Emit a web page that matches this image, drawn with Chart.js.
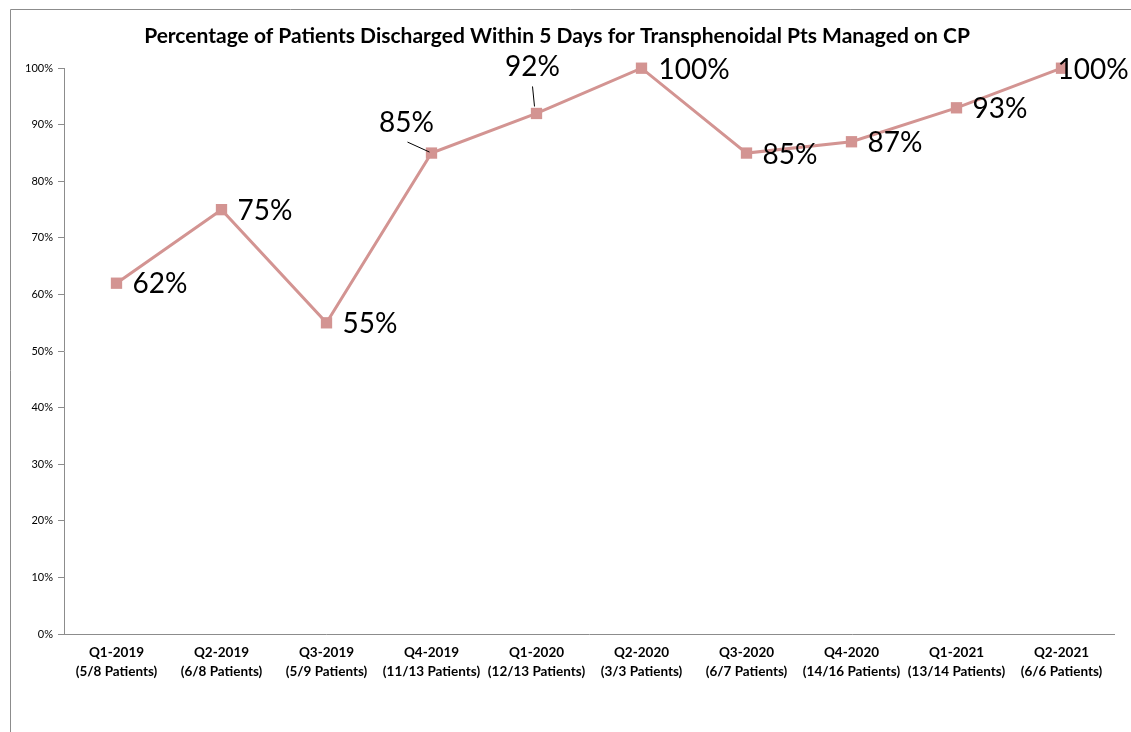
<!DOCTYPE html>
<html>
<head>
<meta charset="utf-8">
<script src="https://cdn.jsdelivr.net/npm/chart.js@4/dist/chart.umd.min.js"></script>
<style>
    html, body { margin: 0; padding: 0; background: #fff; }
    #wrap { width: 1131px; height: 732px; position: relative; }
</style>
</head>
<body>
<div id="wrap"><canvas id="discharge-chart" width="1131" height="732"></canvas></div>
<script>
// Data
const quarters = ['Q1-2019', 'Q2-2019', 'Q3-2019', 'Q4-2019', 'Q1-2020', 'Q2-2020', 'Q3-2020', 'Q4-2020', 'Q1-2021', 'Q2-2021'];
const patientCounts = ['(5/8 Patients)', '(6/8 Patients)', '(5/9 Patients)', '(11/13 Patients)', '(12/13 Patients)',
    '(3/3 Patients)', '(6/7 Patients)', '(14/16 Patients)', '(13/14 Patients)', '(6/6 Patients)'];
const percentDischarged = [62, 75, 55, 85, 92, 100, 85, 87, 93, 100];
const yTicks = [0, 10, 20, 30, 40, 50, 60, 70, 80, 90, 100];

// Label placement (dx, dy from the point, px); leader marks labels moved off the point
const labelOffsets = [
    { dx: 16, dy: 1, align: 'left' },
    { dx: 16, dy: 1, align: 'left' },
    { dx: 16, dy: 1, align: 'left' },
    { dx: -25, dy: -30, align: 'center', leader: true },
    { dx: -4, dy: -46, align: 'center', leader: true },
    { dx: 17, dy: 2, align: 'left' },
    { dx: 16, dy: 2, align: 'left' },
    { dx: 16, dy: 1, align: 'left' },
    { dx: 16, dy: 1, align: 'left' },
    { dx: -4, dy: 2, align: 'left' }
];

const FONT = 'Lato, "Open Sans", sans-serif';
const LINE_COLOR = '#d39492';

const frame = {
    id: 'frame',
    beforeDraw(chart) {
        const c = chart.ctx;
        c.save();
        c.strokeStyle = '#8c8c8c';
        c.lineWidth = 1;
        c.beginPath();
        c.moveTo(10.5, 732);
        c.lineTo(10.5, 9.5);
        c.lineTo(1131, 9.5);
        c.stroke();
        c.restore();
    }
};

const pointLabels = {
    id: 'pointLabels',
    afterDatasetsDraw(chart) {
        const c = chart.ctx;
        const meta = chart.getDatasetMeta(0);
        c.save();
        c.font = '28px ' + FONT;
        c.fillStyle = '#000';
        c.textBaseline = 'middle';
        meta.data.forEach((pt, i) => {
            const o = labelOffsets[i];
            const tx = pt.x + o.dx;
            const ty = pt.y + o.dy;
            if (o.leader) {
                c.strokeStyle = '#000';
                c.lineWidth = 1;
                c.beginPath();
                if (i === 3) {
                    c.moveTo(tx + 1, ty + 19);
                    c.lineTo(pt.x - 2, pt.y - 1);
                } else {
                    c.moveTo(tx, ty + 19);
                    c.lineTo(pt.x - 2, pt.y - 7);
                }
                c.stroke();
            }
            c.textAlign = o.align;
            c.fillText(percentDischarged[i] + '%', tx, ty);
        });
        c.restore();
    }
};

const ctx = document.getElementById('discharge-chart').getContext('2d');
const dischargeChart = new Chart(ctx, {
    type: 'line',
    data: {
        labels: quarters.map((q, i) => [q, patientCounts[i]]),
        datasets: [{
            data: percentDischarged,
            borderColor: LINE_COLOR,
            backgroundColor: LINE_COLOR,
            borderWidth: 3,
            pointStyle: 'rect',
            pointRadius: 8,
            pointBorderWidth: 0,
            tension: 0,
            fill: false,
            clip: false
        }]
    },
    options: {
        responsive: false,
        animation: false,
        layout: { padding: { top: 24, right: 17, left: 0, bottom: 0 } },
        plugins: {
            legend: { display: false },
            tooltip: { enabled: false },
            title: {
                display: true,
                text: 'Percentage of Patients Discharged Within 5 Days for Transphenoidal Pts Managed on CP',
                color: '#000',
                font: { family: FONT, size: 21, weight: 'bold', lineHeight: 1.2 },
                padding: { top: 0, bottom: 19 }
            }
        },
        scales: {
            x: {
                offset: true,
                grid: { display: false, drawTicks: false },
                border: { display: true, color: '#8c8c8c', width: 1 },
                ticks: {
                    color: '#000',
                    font: { family: FONT, size: 13.5, weight: 'bold', lineHeight: 1.35 },
                    maxRotation: 0,
                    autoSkip: false,
                    padding: 10
                },
                afterFit(scale) { scale.height = 98; }
            },
            y: {
                min: 0,
                max: 100,
                afterBuildTicks(scale) { scale.ticks = yTicks.map(v => ({ value: v })); },
                grid: { drawOnChartArea: false, drawTicks: true, tickLength: 6, color: '#8c8c8c' },
                border: { display: true, color: '#8c8c8c', width: 1 },
                ticks: {
                    color: '#000',
                    font: { family: FONT, size: 11 },
                    padding: 5,
                    callback: v => v + '%'
                },
                afterFit(scale) { scale.width = 64; }
            }
        }
    },
    plugins: [frame, pointLabels]
});
</script>
</body>
</html>
